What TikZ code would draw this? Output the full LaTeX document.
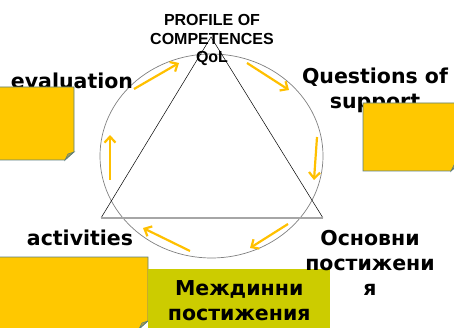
\documentclass[tikz,border=0pt]{standalone}
\usepackage{fontspec}
\newfontfamily\lblfont{DejaVu Sans}
\newfontfamily\ttlfont{Liberation Sans}
\usetikzlibrary{arrows.meta}
\definecolor{noteyl}{RGB}{255,200,0}
\definecolor{arryl}{RGB}{255,192,0}
\definecolor{notebd}{RGB}{90,125,125}
\definecolor{foldc}{RGB}{180,160,60}
\definecolor{boxol}{RGB}{204,204,0}

\begin{document}
\begin{tikzpicture}[x=1pt,y=-1pt,
  lbl/.style={font=\lblfont\bfseries\fontsize{20.5}{25}\selectfont,align=center,inner sep=0pt},
  ttl/.style={font=\ttlfont\bfseries\fontsize{16}{18.7}\selectfont,align=center,inner sep=0pt},
  note/.style={draw=notebd,fill=noteyl,line width=0.8pt},
  fold/.style={draw=notebd,fill=foldc,line width=0.5pt},
  cyc/.style={draw=arryl,line width=2.2pt,-{Straight Barb[length=6pt,width=11pt]}}]
  \useasboundingbox (0,0) rectangle (454,328);
  \clip (0,0) rectangle (454,328);
  % cycle and triangle
  \draw[gray,line width=0.7pt] (211.5,156) ellipse [x radius=111.5,y radius=102];
  \coordinate (apex) at (211,37);
  \coordinate (bl) at (101,218);
  \coordinate (br) at (323,218);
  \draw[line width=0.5pt] (bl) -- (apex) -- (br);
  \draw[gray!70,line width=1.5pt] (bl) -- (br);
  \foreach \xa/\ya/\xb/\yb in {134/89/179/63,247/63/289/90,317/137/314/180,
      288/224/250/248,190/251/143/228,110/180/110/135}
    \draw[cyc] (\xa,\ya) -- (\xb,\yb);
  % labels
  \node[ttl,anchor=base] (prof) at (212,63) {PROFILE OF\\COMPETENCES\\QoL};
  \node[lbl,anchor=base] (eval) at (72,89) {evaluation};
  \node[lbl,anchor=base] (ques) at (375,109) {Questions of\\support};
  \node[lbl,anchor=base] (act) at (80,245) {activities};
  % notes
  \foreach \xa/\ya/\xb/\yb in {-2/87/74/160,363/103/460/171,-2/257/148/329} {
    \draw[note] (\xa,\ya) -- (\xb,\ya) -- (\xb,\yb-8) -- (\xb-9,\yb) -- (\xa,\yb) -- cycle;
    \draw[fold] (\xb,\yb-8) .. controls (\xb-4,\yb-5) .. (\xb-9,\yb) -- (\xb-6,\yb-6) -- cycle;
  }
  \node[lbl,fill=boxol,minimum width=182,minimum height=62,anchor=north west] (mezh) at (148,269) {Междинни\\постижения};
  \node[lbl,anchor=base] (osn) at (370,295) {Основни\\постижени\\я};
\end{tikzpicture}
\end{document}
